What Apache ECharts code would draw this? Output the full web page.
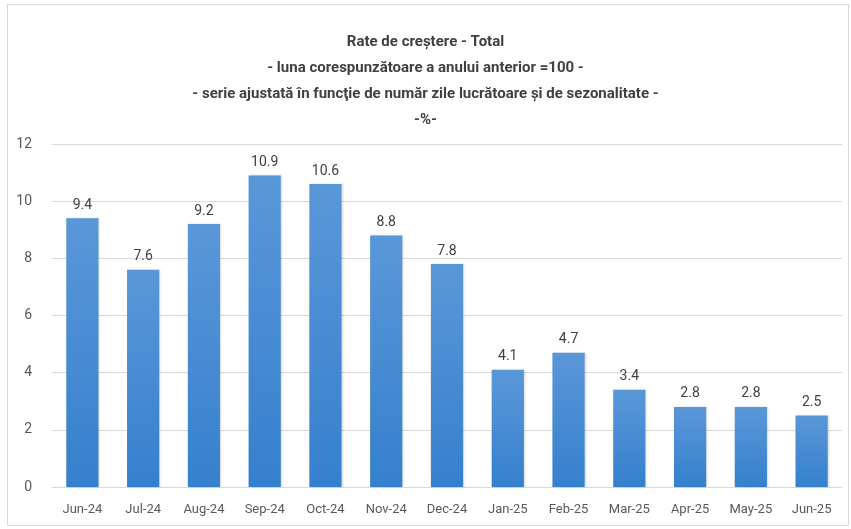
<!DOCTYPE html>
<html lang="ro">

<head>
    <meta charset="UTF-8">
    <title>Rate de crestere - Total</title>
    <script src="https://cdn.jsdelivr.net/npm/echarts@6/dist/echarts.min.js"></script>
    <style>
        * {
            margin: 0;
            padding: 0
        }

        html,
        body {
            width: 851px;
            height: 529px;
            background: #fff;
        }

        #frame {
            position: absolute;
            left: 7px;
            top: 4px;
            width: 840px;
            height: 520px;
            border: 1px solid #d9d9d9;
        }
    </style>
</head>

<body>
    <div id="frame"></div>
    <div id="main" style="position:absolute;left:0;top:0;width:851px;height:529px"></div>

    <script>
        var months = ['Jun-24', 'Jul-24', 'Aug-24', 'Sep-24', 'Oct-24', 'Nov-24', 'Dec-24',
            'Jan-25', 'Feb-25', 'Mar-25', 'Apr-25', 'May-25', 'Jun-25'];
        var growth = [9.4, 7.6, 9.2, 10.9, 10.6, 8.8, 7.8, 4.1, 4.7, 3.4, 2.8, 2.8, 2.5];
        var yTicks = [0, 2, 4, 6, 8, 10, 12];

        var fontName = 'Roboto, "Noto Sans", sans-serif';

        var chart = echarts.init(document.getElementById('main'));
        chart.setOption({
            animation: false,
            title: {
                text: 'Rate de creştere - Total\n- luna corespunzătoare a anului anterior =100 -\n- serie ajustată în funcţie de număr zile lucrătoare şi de sezonalitate -\n-%-',
                left: 'center',
                top: 24,
                textStyle: {
                    fontFamily: fontName,
                    fontSize: 15,
                    fontWeight: 'bold',
                    color: '#404040',
                    lineHeight: 26,
                    align: 'center'
                }
            },
            grid: {
                left: 52,
                right: 9,
                top: 144,
                bottom: 42,
                containLabel: false
            },
            xAxis: {
                type: 'category',
                data: months,
                axisLine: { lineStyle: { color: '#d9d9d9' } },
                axisTick: { show: false },
                axisLabel: {
                    interval: 0,
                    fontFamily: fontName,
                    fontSize: 13,
                    color: '#595959',
                    margin: 16
                }
            },
            yAxis: {
                type: 'value',
                min: yTicks[0],
                max: yTicks[yTicks.length - 1],
                interval: 2,
                axisLine: { show: false },
                axisTick: { show: false },
                splitLine: { lineStyle: { color: '#d9d9d9' } },
                axisLabel: {
                    fontFamily: fontName,
                    fontSize: 14,
                    color: '#595959',
                    margin: 20
                }
            },
            series: [{
                type: 'bar',
                data: growth,
                barWidth: '53%',
                itemStyle: {
                    color: new echarts.graphic.LinearGradient(0, 0, 0, 1, [
                        { offset: 0, color: '#5a97d8' },
                        { offset: 1, color: '#3580cd' }
                    ]),
                    shadowColor: 'rgba(0,0,0,0.15)',
                    shadowBlur: 2,
                    shadowOffsetX: 1
                },
                label: {
                    show: true,
                    position: 'top',
                    distance: 6,
                    fontFamily: fontName,
                    fontSize: 14,
                    color: '#404040',
                    formatter: function (p) { return p.value.toFixed(1); }
                }
            }]
        });
    </script>
</body>

</html>
